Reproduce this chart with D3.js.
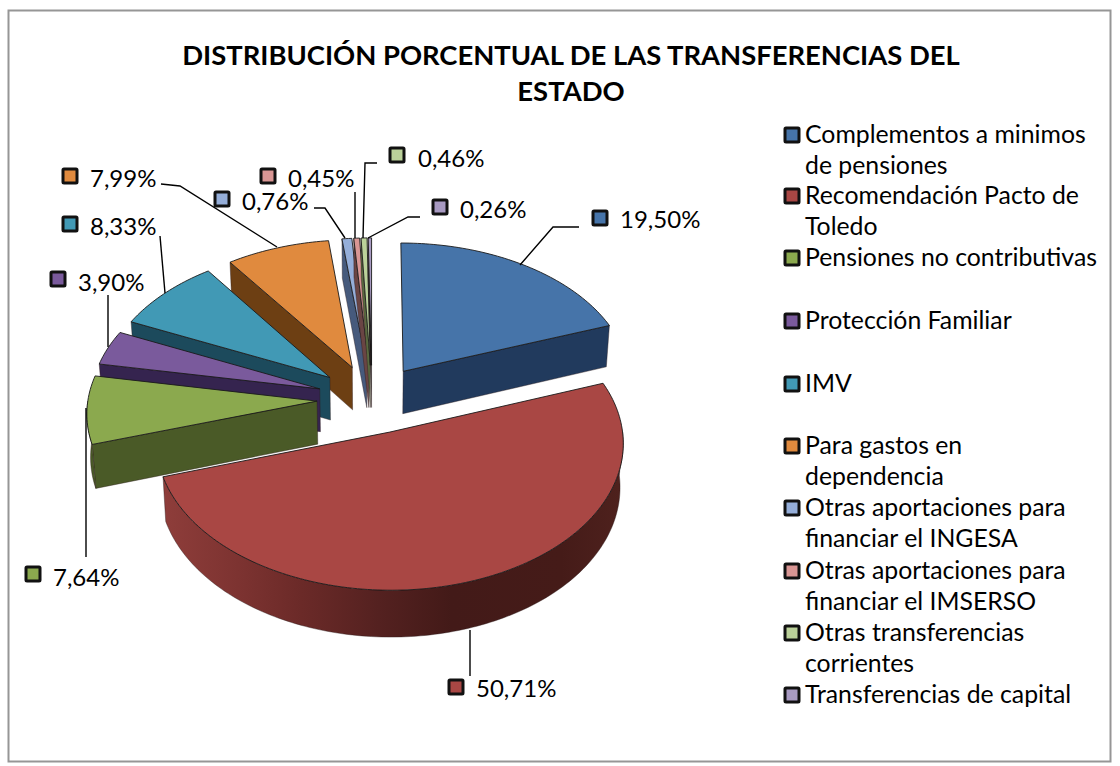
<!DOCTYPE html>
<html><head><meta charset="utf-8">
<script src="https://cdnjs.cloudflare.com/ajax/libs/d3/7.8.5/d3.min.js"></script>
<style>html,body{margin:0;background:#fff}svg{display:block}text{font-family:Lato,"Open Sans",sans-serif;fill:#000}</style>
</head><body><svg id="c" width="1120" height="766"></svg>
<script>
const titleLines = ["DISTRIBUCIÓN PORCENTUAL DE LAS TRANSFERENCIAS DEL", "ESTADO"];
const categories = [
  ["Complementos a minimos", "de pensiones"],
  ["Recomendación Pacto de", "Toledo"],
  ["Pensiones no contributivas"],
  ["Protección Familiar"],
  ["IMV"],
  ["Para gastos en", "dependencia"],
  ["Otras aportaciones para", "financiar el INGESA"],
  ["Otras aportaciones para", "financiar el IMSERSO"],
  ["Otras transferencias", "corrientes"],
  ["Transferencias de capital"]
];
const values = [19.50, 50.71, 7.64, 3.90, 8.33, 7.99, 0.76, 0.45, 0.46, 0.26];
const valueLabels = ["19,50%","50,71%","7,64%","3,90%","8,33%","7,99%","0,76%","0,45%","0,46%","0,26%"];
const topColors  = ["#4674a9","#a94744","#8ba94e","#7a5a9c","#4199b5","#e08a3e","#95aed9","#d99694","#bbd19a","#a89ac2"];
const wallColors = ["#213a5d","#6a2624","#4a5a27","#35244f","#1c4a5c","#6d3f13","#465a7c","#6a4544","#5a6a40","#111111"];
// layout (not data)
const labelLayout = [
  {mx:600,my:218,tx:620,ty:222,leader:[[579,227],[553,227]],rim:[520,265]},
  {mx:456,my:687,tx:476,ty:691,leader:[[470,676]],rim:[470,630]},
  {mx:33,my:574,tx:53,ty:580,leader:[[86,557]],rim:[86,408]},
  {mx:58,my:279,tx:78,ty:285,leader:[[108,295]],rim:[108,347]},
  {mx:70,my:224,tx:90,ty:229,leader:[[160,236]],rim:[165,293]},
  {mx:70,my:176,tx:90,ty:181,leader:[[161,184],[180,186]],rim:[277,247]},
  {mx:222,my:199,tx:242,ty:204,leader:[[314,208],[325,208]],rim:[345,238]},
  {mx:268,my:176,tx:288,ty:181,leader:[[355,192]],rim:[355,238]},
  {mx:397,my:155,tx:418,ty:161,leader:[[377,163],[365,163]],rim:[363,238]},
  {mx:440,my:207,tx:460,ty:212,leader:[[420,217],[408,217]],rim:[368,238]}
];
const legendRows = [135,196,258,321,384,446,508,571,633,695];

const svg = d3.select("#c");
const CX=372, CY=399, R=229, EXPLODE=55, DEPTH=43, RATIO=0.624, PERSP=0.00032, TILT=0.0003;
const total = d3.sum(values);
const angle = d3.scaleLinear().domain([0,total]).range([0,2*Math.PI]);
const cum = d3.cumsum(values);
const slices = values.map((v,i)=>({i,a0:angle(i?cum[i-1]:0),a1:angle(cum[i])}));
const project = (wx,wy,z)=>{ const s=1+PERSP*wy; return [CX+wx*s*(1-TILT*z), CY+(wy*RATIO+z)*s]; };
const line = d3.line();
const defs = svg.append("defs");
const g = defs.append("linearGradient").attr("id","redWall").attr("gradientUnits","userSpaceOnUse")
  .attr("x1",165).attr("x2",620).attr("y1",0).attr("y2",0);
[[0,"#8e3d3a"],[0.16,"#7d3331"],[0.30,"#6b2a28"],[0.47,"#542120"],[0.63,"#431a18"],[0.87,"#451b18"],[1,"#4e211d"]]
  .forEach(([o,c])=>g.append("stop").attr("offset",o).attr("stop-color",c));

svg.append("rect").attr("x",8.5).attr("y",10.5).attr("width",1102).attr("height",751)
  .attr("fill","#fff").attr("stroke","#969696").attr("stroke-width",2);

function rimPts(s,a0,a1,z){
  const mid=(s.a0+s.a1)/2, ex=EXPLODE*Math.sin(mid), ey=-EXPLODE*Math.cos(mid);
  const n=Math.max(2,Math.ceil((a1-a0)/0.02));
  return d3.range(n+1).map(k=>{const a=a0+(a1-a0)*k/n;
    return project(ex+R*Math.sin(a),ey-R*Math.cos(a),z);});
}
function apex(s,z){const mid=(s.a0+s.a1)/2;return project(EXPLODE*Math.sin(mid),-EXPLODE*Math.cos(mid),z);}

const drawOrder=[6,7,8,9,5,4,3,2,0,1];
const pieG=svg.append("g").attr("stroke-linejoin","round");
drawOrder.forEach(i=>{
  const s=slices[i], fill=wallColors[i];
  const wall=(p,f)=>pieG.append("path").attr("d",line(p)+"Z").attr("fill",f).attr("stroke","#2a1a1a").attr("stroke-width",0.4);
  const radial=a=>{const A=apex(s,0),B=apex(s,DEPTH),P=rimPts(s,a,a+1e-4,0)[0],Q=rimPts(s,a,a+1e-4,DEPTH)[0];
    wall([A,P,Q,B],fill);};
  if(Math.sin(s.a0)<0) radial(s.a0);
  if(Math.sin(s.a1)>0) radial(s.a1);
  const w0=Math.max(s.a0,Math.PI/2), w1=Math.min(s.a1,1.5*Math.PI);
  if(w1>w0){
    const top=rimPts(s,w0,w1,0), bot=rimPts(s,w0,w1,DEPTH);
    wall(top.concat(bot.reverse()), i===1?"url(#redWall)":fill);
  }
  pieG.append("path").attr("d",line([apex(s,0),...rimPts(s,s.a0,s.a1,0)])+"Z").attr("fill",topColors[i])
    .attr("stroke","#1a1a1a").attr("stroke-width",0.9);
});

const marker=(x,y,i)=>svg.append("rect").attr("x",x-7).attr("y",y-7).attr("width",14).attr("height",14)
  .attr("rx",1).attr("fill",topColors[i]).attr("stroke","#111").attr("stroke-width",3);

labelLayout.forEach((l,i)=>{
  svg.append("path").attr("d",line([...l.leader,l.rim])).attr("fill","none").attr("stroke","#000").attr("stroke-width",1.4);
  marker(l.mx,l.my,i);
  svg.append("text").attr("x",l.tx).attr("y",l.ty+6).attr("font-size",24).text(valueLabels[i]);
});

categories.forEach((c,i)=>{
  marker(792,legendRows[i],i);
  c.forEach((t,k)=>svg.append("text").attr("x",805).attr("y",legendRows[i]+8+k*31).attr("font-size",24.8).text(t));
});

titleLines.forEach((t,k)=>svg.append("text").attr("x",571).attr("y",65+k*36).attr("text-anchor","middle")
  .attr("font-size",27.4).attr("font-weight",700).text(t));
</script></body></html>
